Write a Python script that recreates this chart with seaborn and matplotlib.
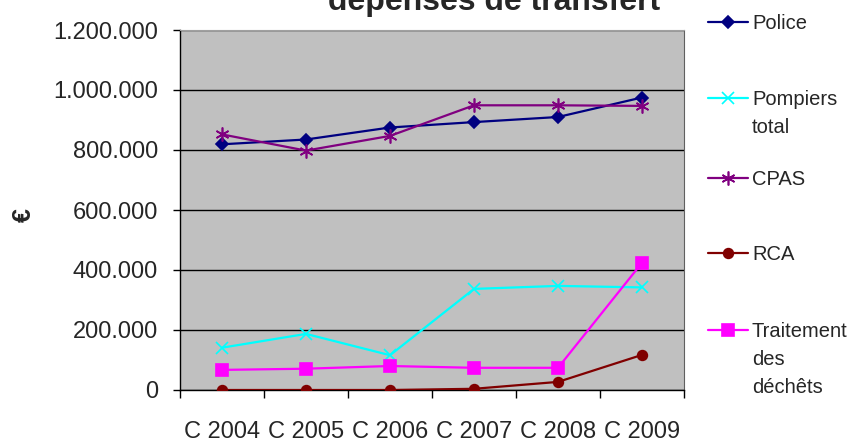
import matplotlib
matplotlib.use("Agg")
import matplotlib.pyplot as plt
import seaborn as sns
import pandas as pd
from matplotlib.lines import Line2D
from matplotlib.ticker import FuncFormatter, FixedLocator

categories = ["C 2004", "C 2005", "C 2006", "C 2007", "C 2008", "C 2009"]
police = [819000, 835000, 875000, 893000, 910000, 975000]
pompiers = [141000, 187000, 116000, 337000, 347000, 342000]
cpas = [852000, 798000, 847000, 949000, 949000, 947000]
rca = [0, 0, 0, 4000, 27000, 117000]
traitement = [67000, 71000, 80000, 74000, 74000, 424000]
series_names = ["Police", "Pompiers\ntotal", "CPAS", "RCA", "Traitement\ndes\ndéchêts"]
y_ticks = [0, 200000, 400000, 600000, 800000, 1000000, 1200000]

sns.set_style("white")
plt.rcParams['font.family'] = ['Liberation Sans', 'DejaVu Sans']

colors = ["#000080", "#00FFFF", "#800080", "#800000", "#FF00FF"]
markers = ["D", "x", (6, 2, 0), "o", "s"]
msizes = [6.5, 8, 10, 7, 8]
values = [police, pompiers, cpas, rca, traitement]

rows = []
for name, vals in zip(series_names, values):
    for c, v in zip(categories, vals):
        rows.append({"cat": c, "val": v, "series": name})
df = pd.DataFrame(rows)

fig = plt.figure(figsize=(8.5, 4.41), dpi=100)
ax = fig.add_axes([180/850, 1-390/441, (684-180)/850, 360/441])
ax.set_facecolor("#C0C0C0")

for i, name in enumerate(series_names):
    sub = df[df.series == name]
    sns.lineplot(data=sub, x="cat", y="val", ax=ax, color=colors[i], marker=markers[i],
                 markersize=msizes[i], markeredgecolor=colors[i], markerfacecolor=colors[i],
                 markeredgewidth=1.2, linewidth=1.6, legend=False, sort=False, zorder=3)

ax.set_xlim(-0.5, 5.5)
ax.set_ylim(0, 1200000)
ax.set_yticks(y_ticks)
ax.yaxis.set_major_formatter(FuncFormatter(lambda v, p: f"{int(v):,}".replace(",", ".")))
ax.grid(axis="y", color="black", linewidth=1.0)
ax.set_axisbelow(True)

ax.xaxis.set_major_locator(FixedLocator([i - 0.5 for i in range(7)]))
ax.xaxis.set_minor_locator(FixedLocator(list(range(6))))
ax.set_xticklabels([], minor=False)
ax.set_xticklabels(categories, minor=True)
ax.tick_params(axis="x", which="major", direction="out", length=6, width=1, color="black", bottom=True)
ax.tick_params(axis="x", which="minor", length=0, pad=22, labelsize=17, bottom=True)
ax.tick_params(axis="y", direction="out", length=5, width=1, color="black", pad=11, labelsize=17, left=True)
ax.set_xlabel("")
ax.set_ylabel("")

for s in ["left", "bottom"]:
    ax.spines[s].set_color("black")
    ax.spines[s].set_linewidth(1.0)
ax.spines["top"].set_color("#A0A0A0")
ax.spines["right"].set_color("#606060")

fig.text(24/850, 1-215/441, "€", rotation=90, ha="center", va="center", fontsize=18, fontweight="bold")
fig.text(494/850, 1-10/441, "dépenses de transfert", ha="center", va="baseline",
         fontsize=23, fontweight="bold")

# legend
leg_y = [22, 98, 178, 253, 330]
for i, name in enumerate(series_names):
    yf = 1 - leg_y[i]/441
    fig.add_artist(Line2D([708/850, 748/850], [yf, yf], color=colors[i], linewidth=1.6,
                          transform=fig.transFigure))
    fig.add_artist(Line2D([728/850], [yf], color=colors[i], marker=markers[i], markersize=msizes[i],
                          markeredgecolor=colors[i], markerfacecolor=colors[i], markeredgewidth=1.2,
                          transform=fig.transFigure))
    fig.text(752/850, 1-(leg_y[i]-8)/441, name, ha="left", va="top", fontsize=14.5,
             linespacing=1.6)

fig.savefig("out.png", dpi=100)
